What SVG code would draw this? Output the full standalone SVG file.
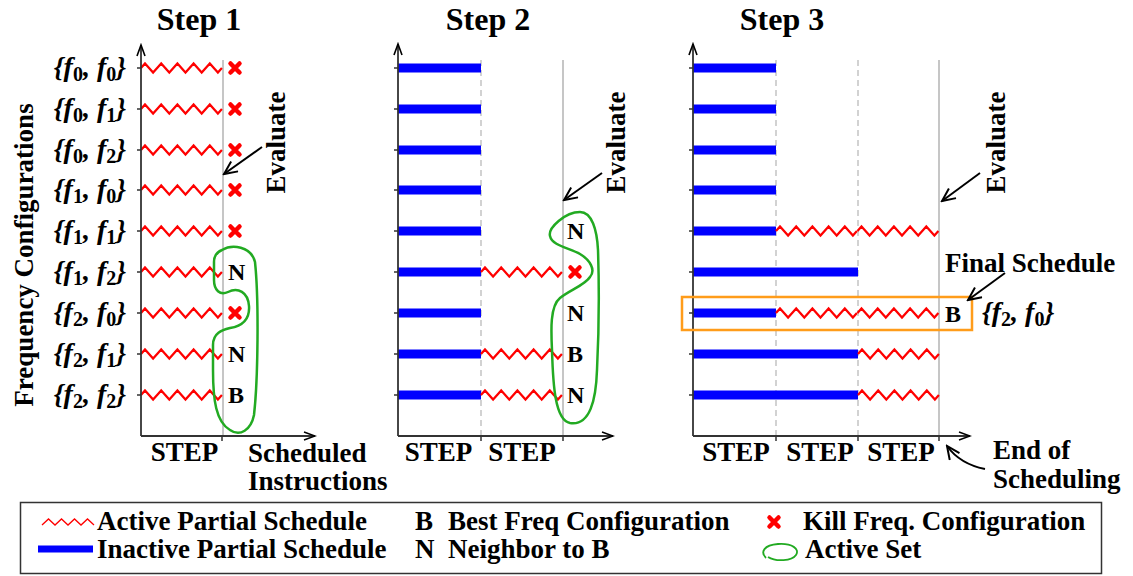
<svg xmlns="http://www.w3.org/2000/svg" width="1133" height="576" viewBox="0 0 1133 576">
<style>
text{font-family:"Liberation Serif","Times New Roman",serif;font-weight:bold;fill:#000}
.title{font-size:32px}
.lbl{font-size:27px}
.cfg{font-size:28px;font-style:italic}
.sub{font-size:20px;font-style:normal}
.mark{font-size:24px}
.axis{stroke:#333;stroke-width:1.8;fill:none}
.tick{stroke:#333;stroke-width:1.5;fill:none}
.grid{stroke:#b3b3b3;stroke-width:1.5}
.dash{stroke:#c4c4c4;stroke-width:1.5;stroke-dasharray:6 4}
.bar{stroke:#0000ff;stroke-width:9}
.zz{stroke:#ff0000;stroke-width:2.2;fill:none;stroke-linejoin:miter}
.set{stroke:#22aa22;stroke-width:2.5;fill:none}
.ptr{stroke:#000;stroke-width:2;fill:none}
</style>
<defs>
<marker id="ah" markerWidth="14" markerHeight="10" refX="12" refY="5" orient="auto" markerUnits="userSpaceOnUse"><path d="M1,1 L12,5 L1,9" fill="none" stroke="#000" stroke-width="1.6"/></marker>
<marker id="ph" markerWidth="16" markerHeight="14" refX="14" refY="7" orient="auto" markerUnits="userSpaceOnUse"><path d="M1,1 L14,7 L1,13" fill="none" stroke="#000" stroke-width="2"/></marker>
<path id="zz" class="zz" d="M0,0 l4,-4.5 l8.1,9 l8.1,-9 l8.1,9 l8.1,-9 l8.1,9 l8.1,-9 l8.1,9 l8.1,-9 l8.1,9 l4,-4.5"/>
<path id="kill" d="M-4.5,-4.5 L4.5,4.5 M-4.5,4.5 L4.5,-4.5" stroke="#ff0000" stroke-width="4.5" stroke-linecap="round"/>
</defs>

<g id="titles">
<text class="title" x="199" y="30" text-anchor="middle">Step 1</text>
<text class="title" x="488" y="30" text-anchor="middle">Step 2</text>
<text class="title" x="782" y="30" text-anchor="middle">Step 3</text>
</g>

<g id="ylabel">
<text class="lbl" transform="translate(33,255) rotate(-90)" text-anchor="middle">Frequency Configurations</text>
</g>

<g id="config-labels">
<text class="cfg" x="126" y="76" text-anchor="end">{f<tspan class="sub" dy="5">0</tspan><tspan dy="-5">, f</tspan><tspan class="sub" dy="5">0</tspan><tspan dy="-5">}</tspan></text>
<text class="cfg" x="126" y="117" text-anchor="end">{f<tspan class="sub" dy="5">0</tspan><tspan dy="-5">, f</tspan><tspan class="sub" dy="5">1</tspan><tspan dy="-5">}</tspan></text>
<text class="cfg" x="126" y="158" text-anchor="end">{f<tspan class="sub" dy="5">0</tspan><tspan dy="-5">, f</tspan><tspan class="sub" dy="5">2</tspan><tspan dy="-5">}</tspan></text>
<text class="cfg" x="126" y="198" text-anchor="end">{f<tspan class="sub" dy="5">1</tspan><tspan dy="-5">, f</tspan><tspan class="sub" dy="5">0</tspan><tspan dy="-5">}</tspan></text>
<text class="cfg" x="126" y="239" text-anchor="end">{f<tspan class="sub" dy="5">1</tspan><tspan dy="-5">, f</tspan><tspan class="sub" dy="5">1</tspan><tspan dy="-5">}</tspan></text>
<text class="cfg" x="126" y="280" text-anchor="end">{f<tspan class="sub" dy="5">1</tspan><tspan dy="-5">, f</tspan><tspan class="sub" dy="5">2</tspan><tspan dy="-5">}</tspan></text>
<text class="cfg" x="126" y="321" text-anchor="end">{f<tspan class="sub" dy="5">2</tspan><tspan dy="-5">, f</tspan><tspan class="sub" dy="5">0</tspan><tspan dy="-5">}</tspan></text>
<text class="cfg" x="126" y="362" text-anchor="end">{f<tspan class="sub" dy="5">2</tspan><tspan dy="-5">, f</tspan><tspan class="sub" dy="5">1</tspan><tspan dy="-5">}</tspan></text>
<text class="cfg" x="126" y="403" text-anchor="end">{f<tspan class="sub" dy="5">2</tspan><tspan dy="-5">, f</tspan><tspan class="sub" dy="5">2</tspan><tspan dy="-5">}</tspan></text>
</g>

<g id="step1">
<line class="grid" x1="223" y1="60" x2="223" y2="436"/>
<use href="#zz" x="141" y="68"/><use href="#zz" x="141" y="109"/><use href="#zz" x="141" y="150"/>
<use href="#zz" x="141" y="190"/><use href="#zz" x="141" y="231"/><use href="#zz" x="141" y="272"/>
<use href="#zz" x="141" y="313"/><use href="#zz" x="141" y="354"/><use href="#zz" x="141" y="395"/>
<path class="axis" d="M141,436 V45" marker-end="url(#ah)"/>
<path class="axis" d="M141,436 H315" marker-end="url(#ah)"/>
<path class="tick" d="M137,68h4M137,109h4M137,150h4M137,190h4M137,231h4M137,272h4M137,313h4M137,354h4M137,395h4M222,436v5"/>
<use href="#kill" x="235" y="68"/><use href="#kill" x="235" y="109"/><use href="#kill" x="235" y="150"/>
<use href="#kill" x="235" y="190"/><use href="#kill" x="235" y="231"/><use href="#kill" x="235" y="313"/>
<text class="mark" x="228" y="280">N</text>
<text class="mark" x="228" y="362">N</text>
<text class="mark" x="228" y="403">B</text>
<path class="set" d="M222,250 C232,244 251,246 255,262 C259,300 258,380 254,415 C251,430 240,437 230,430 C216,422 213,400 213,370 L213,345 C213,333 222,330 230,328 C242,326 250,320 249,306 C248,292 238,287 228,292 C220,296 214,290 214,280 L214,262 C214,256 217,252 222,250 Z"/>
<text class="lbl" x="184.5" y="461" text-anchor="middle">STEP</text>
<text class="lbl" x="248" y="462">Scheduled</text>
<text class="lbl" x="248" y="490">Instructions</text>
<text class="lbl" transform="translate(285,142.5) rotate(-90)" text-anchor="middle">Evaluate</text>
</g>

<g id="step2">
<line class="dash" x1="481" y1="60" x2="481" y2="436"/>
<line class="grid" x1="563" y1="60" x2="563" y2="436"/>
<path class="bar" d="M398,68H481M398,109H481M398,150H481M398,190H481M398,231H481M398,272H481M398,313H481M398,354H481M398,395H481"/>
<use href="#zz" x="481" y="272"/><use href="#zz" x="481" y="354"/><use href="#zz" x="481" y="395"/>
<path class="axis" d="M398,436 V44" marker-end="url(#ah)"/>
<path class="axis" d="M398,436 H613" marker-end="url(#ah)"/>
<path class="tick" d="M394,68h4M394,109h4M394,150h4M394,190h4M394,231h4M394,272h4M394,313h4M394,354h4M394,395h4M481,436v5M563,436v5"/>
<use href="#kill" x="575" y="272"/>
<text class="mark" x="567" y="239">N</text>
<text class="mark" x="567" y="321">N</text>
<text class="mark" x="567" y="362">B</text>
<text class="mark" x="567" y="403">N</text>
<path class="set" d="M580,212 C565,212 548,228 550,236 C552,246 570,248 580,254 C590,260 596,270 590,277 C585,285 570,290 560,298 C550,306 551,330 552,350 C553,385 555,420 570,423 C590,426 596,400 597,370 C599,330 599,280 598,250 C597,230 592,212 580,212 Z"/>
<text class="lbl" x="438.5" y="461" text-anchor="middle">STEP</text>
<text class="lbl" x="522" y="461" text-anchor="middle">STEP</text>
<text class="lbl" transform="translate(625,142.5) rotate(-90)" text-anchor="middle">Evaluate</text>
</g>

<g id="step3">
<line class="dash" x1="776" y1="60" x2="776" y2="436"/>
<line class="dash" x1="858" y1="60" x2="858" y2="436"/>
<line class="grid" x1="939" y1="60" x2="939" y2="436"/>
<path class="bar" d="M693,68H776M693,109H776M693,150H776M693,190H776M693,231H776M693,272H858M693,313H776M693,354H858M693,395H858"/>
<use href="#zz" x="776" y="231"/><use href="#zz" x="857.5" y="231"/>
<use href="#zz" x="776" y="313"/><use href="#zz" x="857.5" y="313"/>
<use href="#zz" x="858" y="354"/><use href="#zz" x="858" y="395"/>
<path class="axis" d="M693,436 V44" marker-end="url(#ah)"/>
<path class="axis" d="M693,436 H970" marker-end="url(#ah)"/>
<path class="tick" d="M689,68h4M689,109h4M689,150h4M689,190h4M689,231h4M689,272h4M689,313h4M689,354h4M689,395h4M776,436v5M858,436v5M939,436v5"/>
<rect x="682" y="297" width="290" height="33" fill="none" stroke="#ff9c1a" stroke-width="2.5"/>
<text class="mark" x="945" y="322">B</text>
<text class="cfg" x="982" y="321">{f<tspan class="sub" dy="5">2</tspan><tspan dy="-5">, f</tspan><tspan class="sub" dy="5">0</tspan><tspan dy="-5">}</tspan></text>
<text class="lbl" x="945" y="272">Final Schedule</text>
<text class="lbl" x="736" y="461" text-anchor="middle">STEP</text>
<text class="lbl" x="820" y="461" text-anchor="middle">STEP</text>
<text class="lbl" x="901" y="461" text-anchor="middle">STEP</text>
<text class="lbl" x="993" y="459">End of</text>
<text class="lbl" x="993" y="488">Scheduling</text>
<text class="lbl" transform="translate(1005,142.5) rotate(-90)" text-anchor="middle">Evaluate</text>
</g>

<g id="connectors">
<path class="ptr" d="M262,147 L224,174" marker-end="url(#ph)"/>
<path class="ptr" d="M602,173 L564,200" marker-end="url(#ph)"/>
<path class="ptr" d="M980,173 L942,201" marker-end="url(#ph)"/>
<path class="ptr" d="M1005,273 L968,300" marker-end="url(#ph)"/>
<path class="ptr" d="M985,469 Q960,464 947,446" marker-end="url(#ph)"/>
</g>

<g id="legend">
<rect x="20.5" y="502.5" width="1081" height="71" fill="none" stroke="#333" stroke-width="1.5"/>
<path d="M42,525 l6.5,-6 6.5,6 6.5,-6 6.5,6 6.5,-6 6.5,6 6.5,-6 6.5,6" stroke="#ff0000" stroke-width="1.3" fill="none"/>
<text class="lbl" x="97" y="530">Active Partial Schedule</text>
<line x1="38" y1="549" x2="93" y2="549" stroke="#0000ff" stroke-width="7"/>
<text class="lbl" x="97" y="558">Inactive Partial Schedule</text>
<text class="lbl" x="415" y="530">B</text>
<text class="lbl" x="448" y="530">Best Freq Configuration</text>
<text class="lbl" x="415" y="558">N</text>
<text class="lbl" x="448" y="558">Neighbor to B</text>
<use href="#kill" x="774" y="522"/>
<text class="lbl" x="803" y="530">Kill Freq. Configuration</text>
<path d="M766,558 C760,552 764,545 778,544 C792,543 800,549 796,555 C792,561 776,562 768,557" stroke="#22aa22" stroke-width="1.8" fill="none"/>
<text class="lbl" x="805" y="558">Active Set</text>
</g>
</svg>
